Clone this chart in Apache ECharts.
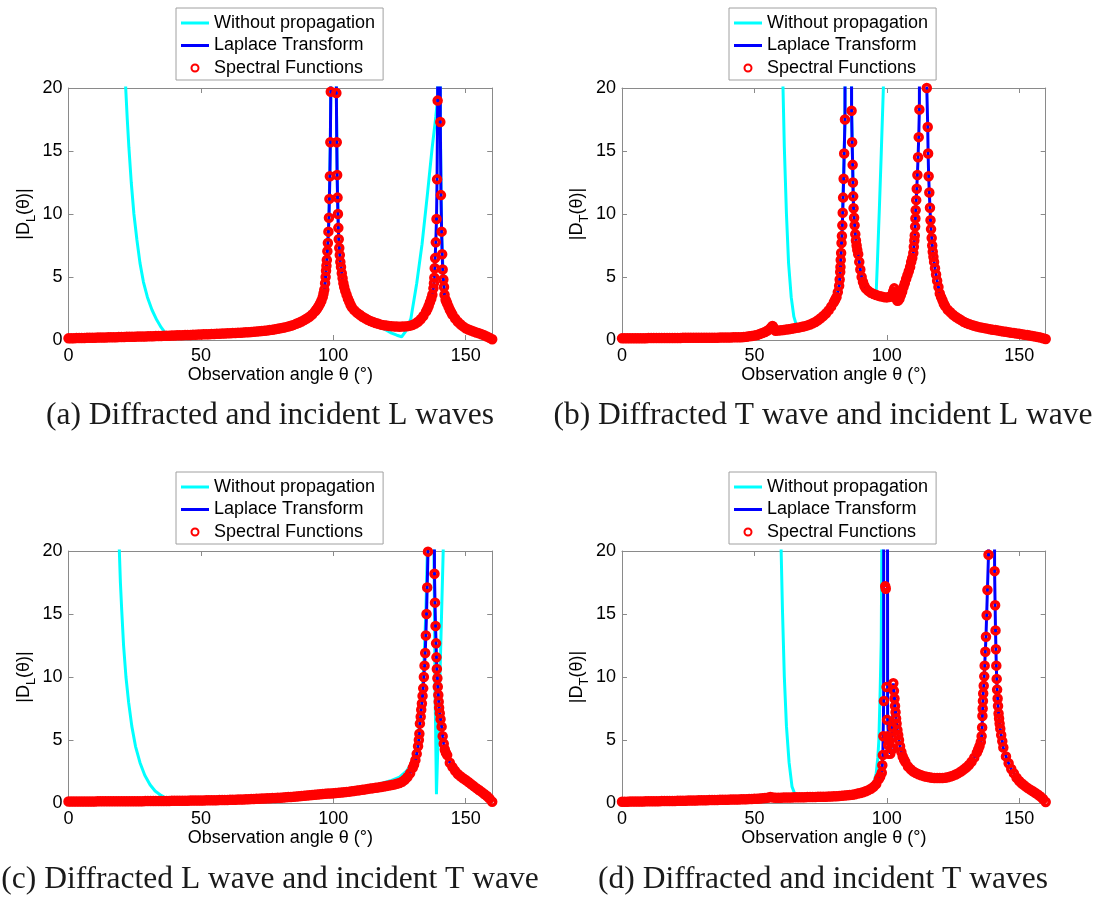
<!DOCTYPE html>
<html><head><meta charset="utf-8">
<script src="https://cdn.jsdelivr.net/npm/echarts/dist/echarts.min.js"></script>
<style>html,body{margin:0;padding:0;background:#fff}#c{width:1101px;height:897px}</style>
</head><body><div id="c"></div>
<script>
// ---------- DATA ----------
// Series names / captions
const seriesNames = ['Without propagation', 'Laplace Transform', 'Spectral Functions'];
const captions = [
  '(a) Diffracted and incident L waves',
  '(b) Diffracted T wave and incident L wave',
  '(c) Diffracted L wave and incident T wave',
  '(d) Diffracted and incident T waves'
];
const ySubs = ['L', 'T', 'L', 'T'];
const xName = 'Observation angle \u03b8 (\u00b0)';

// Spectral-function values at integer angles 0..160 (null = inside a steep peak, see flank lists)
const bandA = [.13,.14,.14,.15,.15,.16,.16,.17,.17,.18,.18,
 .19,.19,.2,.2,.21,.21,.22,.22,.23,.24,
 .24,.25,.25,.26,.26,.27,.27,.28,.28,.29,
 .3,.3,.31,.31,.32,.33,.33,.34,.35,.36,
 .37,.37,.38,.39,.4,.4,.41,.42,.43,.44,
 .45,.46,.46,.47,.48,.49,.5,.51,.52,.53,
 .54,.55,.56,.57,.58,.6,.61,.62,.64,.66,
 .68,.7,.72,.74,.76,.79,.82,.85,.89,.93,
 .97,1.02,1.07,1.13,1.2,1.28,1.37,1.47,1.58,1.7,
 1.85,2.02,2.25,2.52,2.9,3.4,null,null,null,null,
 null,null,null,null,3.6,3.05,2.6,2.35,2.15,2.0,
 1.85,1.72,1.6,1.5,1.42,1.35,1.28,1.22,1.18,1.15,
 1.12,1.1,1.08,1.07,1.06,1.07,1.08,1.1,1.14,1.2,
 1.3,1.45,1.65,1.9,2.25,2.7,null,null,null,null,
 null,null,2.9,2.4,2.0,1.7,1.45,1.25,1.08,.93,
 .84,.75,.67,.6,.53,.45,.37,.27,.17,.06];
const flankA = [[93.5,2.38],[94.5,2.7],[95.5,3.12],[96.3,3.7],[96.6,4.0],[96.9,4.5],[97.1,5.0],[97.25,5.5],[97.4,5.9],[97.55,6.35],[97.75,7.05],[97.95,7.7],[98.15,8.6],[98.35,9.7],[98.52,11.2],[98.7,13.0],[98.88,15.7],[99.05,19.7],
 [101.15,19.6],[101.3,15.7],[101.45,13.1],[101.6,11.3],[101.75,10.0],[101.9,8.9],[102.05,8.0],[102.25,7.3],[102.45,6.75],[102.65,6.2],[102.9,5.8],[103.2,5.3],[103.5,4.9],[103.8,4.5],[104.1,4.2],[104.5,3.9],[105.5,3.3],[106.5,2.8],
 [135.5,2.45],[136.5,3.0],[137.0,3.3],[137.4,3.6],[137.8,4.1],[138.0,4.5],[138.15,4.95],[138.3,5.7],[138.45,6.5],[138.7,7.75],[138.97,9.6],[139.18,12.75],[139.4,19.0],
 [140.4,17.3],[140.65,11.5],[140.9,8.6],[141.1,6.8],[141.3,5.6],[141.55,4.8],[141.8,4.2],[142.0,3.6],[142.4,3.2],[142.7,3.05],[143.5,2.65],[144.5,2.2]];
const peaksA = [[100.1,200],[139.9,200]];
const freeA = [[20.8,30],[21.6,20],[22.2,17.5],[22.8,15.3],[23.7,12.5],[24.7,10],[25.8,8],[27.0,6.1],[28.3,4.6],[29.8,3.4],[31.5,2.4],[33.3,1.6],[35,1.0],[36.4,0.6],[38,0.45],[40,0.37],[50,0.44],[60,0.53],[70,0.66],[80,0.93],[85,1.2],[90,1.7],[93,2.25],[95,2.9],[96.6,4.0],[97.55,6.35],[98.35,9.7],[98.88,15.7],[99.05,19.7],[100.1,200],[101.15,19.6],[101.45,13.1],[101.9,8.9],[102.65,6.2],[103.5,4.9],[105,3.6],[107,2.6],[110,2.0],[113,1.6],[116,1.3],[118,1.0],[120,0.78],[122,0.55],[124,0.38],[125.8,0.26],[127.2,0.65],[129.3,1.7],[131.5,4.5],[133.5,7.6],[135.5,11.5],[137.3,15.2],[138.7,17.7],[139.4,19.2],[139.9,200],[140.4,17.3],[140.9,8.6],[141.55,4.8],[142.4,3.2],[143,2.9],[145,2.0],[150,0.93],[155,0.53],[160,0.06]];

const bandB = [.13,.13,.13,.13,.14,.14,.14,.14,.14,.14,.15,
 .15,.15,.15,.15,.15,.16,.16,.16,.16,.16,
 .16,.16,.17,.17,.17,.17,.17,.17,.17,.18,
 .18,.18,.18,.18,.18,.18,.19,.19,.19,.2,
 .2,.21,.21,.21,.22,.24,.26,.29,.32,.36,
 .4,.47,.55,.64,.75,.92,1.08,.74,.76,.78,
 .8,.83,.86,.89,.93,.97,1.0,1.05,1.1,1.16,
 1.23,1.32,1.43,1.57,1.73,1.9,2.1,2.35,2.65,3.0,
 3.4,4.3,null,null,null,null,null,null,null,null,
 null,4.1,3.9,3.75,3.65,3.57,3.5,3.45,3.4,3.38,
 3.42,null,null,null,null,null,null,null,null,null,
 null,null,null,null,null,null,null,null,null,3.7,
 3.15,2.7,2.4,2.2,2.0,1.85,1.7,1.58,1.45,1.35,
 1.27,1.2,1.13,1.07,1.02,.98,.94,.9,.86,.82,
 .79,.75,.72,.68,.65,.62,.58,.55,.52,.49,
 .46,.42,.39,.36,.32,.28,.24,.19,.14,.08];
const flankB = [[56.5,1.02],[56.8,1.11],[57.4,0.85],[80.5,3.2],[81.5,3.8],[82.2,4.8],[82.4,5.4],[82.5,5.8],[82.6,6.35],[82.75,6.9],[82.9,7.7],[83.05,8.25],[83.2,9.1],[83.35,10.1],[83.5,11.3],[83.7,12.8],[83.9,14.8],[84.2,17.5],
 [86.7,18.2],[86.9,15.7],[87.1,13.9],[87.2,12.5],[87.3,11.4],[87.45,10.45],[87.65,9.7],[87.85,9.1],[88.1,8.4],[88.35,7.9],[88.6,7.5],[88.85,7.15],[89.2,6.8],[89.6,6.2],[90.0,5.6],[90.5,5.0],[91.0,4.6],[91.5,4.3],
 [101.5,3.45],[102.0,3.6],[102.4,3.85],[102.8,4.1],[103.2,3.7],[103.6,3.3],[104.0,3.12],[104.4,3.15],[104.8,3.3],[105.3,3.55],[105.8,3.85],[106.3,4.2],[106.8,4.5],[107.3,4.85],[107.8,5.15],[108.3,5.45],[108.8,5.8],[109.2,6.2],[109.6,6.5],[110.0,6.9],
 [110.2,7.4],[110.4,7.9],[110.55,8.3],[110.7,9.0],[110.8,9.65],[110.9,10.3],[111.1,11.1],[111.3,12.0],[111.55,13.1],[111.8,14.5],[112.05,16.1],[112.3,18.3],
 [115.1,20.0],[115.45,16.9],[115.6,14.8],[115.8,13.0],[116.05,11.7],[116.3,10.5],[116.5,9.5],[116.7,8.8],[116.95,8.1],[117.15,7.5],[117.35,7.0],[117.6,6.6],[117.85,6.2],[118.2,5.7],[118.6,5.2],[119.0,4.7],[119.5,4.2],[120.5,3.4],[121.5,2.9]];
const peaksB = [[85.3,200],[113.6,200]];
const freeB = [[60.3,40],[60.8,20],[61.3,15.3],[62.1,10],[62.9,6.1],[63.9,3.4],[64.9,1.85],[66.1,1.0],[70,1.16],[75,1.73],[80,3.0],[82,4.3],[83.05,8.25],[83.9,14.8],[84.2,17.5],[85.3,200],[86.7,18.2],[87.45,10.45],[88.6,7.5],[90,5.6],[91.5,4.3],[93,3.9],[95,3.65],[96.0,3.8],[96.5,6.5],[97.2,10.5],[97.9,14.8],[98.7,20],[99.3,40],[160,40]];

const bandC = [.12,.12,.12,.12,.12,.12,.12,.12,.12,.12,.12,
 .13,.13,.13,.13,.13,.13,.13,.13,.13,.13,
 .13,.13,.14,.14,.14,.14,.14,.14,.15,.15,
 .15,.15,.15,.15,.16,.16,.16,.16,.17,.17,
 .17,.17,.18,.18,.18,.19,.19,.19,.2,.2,
 .2,.21,.21,.21,.22,.22,.23,.23,.24,.24,
 .25,.25,.26,.27,.27,.28,.29,.3,.31,.32,
 .33,.34,.35,.36,.37,.38,.39,.4,.41,.42,
 .44,.45,.47,.48,.5,.51,.53,.55,.57,.59,
 .61,.63,.65,.67,.69,.71,.73,.75,.76,.78,
 .8,.82,.84,.86,.88,.9,.93,.96,.99,1.02,
 1.05,1.08,1.12,1.15,1.18,1.21,1.24,1.27,1.3,1.34,
 1.38,1.42,1.47,1.52,1.58,1.68,1.85,2.07,2.36,2.8,
 3.4,null,null,null,null,null,null,null,null,null,
 null,null,3.8,3.2,2.85,2.55,2.3,2.12,1.97,1.83,
 1.67,1.5,1.34,1.18,1.03,.88,.72,.55,.35,.1];
const flankC = [[130.5,3.05],[131.5,3.9],[132.0,4.5],[132.3,5.0],[132.5,5.5],[132.7,6.3],[133.0,6.85],[133.2,7.4],[133.45,7.9],[133.7,8.5],[133.95,9.1],[134.2,10.0],[134.45,10.9],[134.7,11.9],[134.95,13.3],[135.2,15.0],[135.45,17.1],[135.75,19.95],
 [138.2,18.2],[138.4,15.9],[138.6,14.05],[138.8,12.67],[138.95,11.56],[139.1,10.63],[139.3,9.9],[139.45,9.23],[139.65,8.57],[139.8,8.04],[139.95,7.56],[140.2,7.12],[140.5,6.64],[140.9,6.06],[141.3,5.3],[141.7,4.7],[142.1,4.25],[142.5,4.0]];
const peaksC = [[136.8,200]];
const freeC = [[18.8,30],[19.2,20],[19.6,17.5],[20.1,15.3],[20.8,12.5],[21.7,10],[22.7,8],[23.9,6.1],[25.3,4.5],[27.0,3.2],[28.8,2.2],[30.8,1.45],[32.7,0.95],[34.6,0.66],[36.2,0.45],[37.7,0.32],[42,0.18],[60,0.24],[80,0.42],[100,0.8],[110,1.05],[118,1.55],[122,1.8],[125,2.05],[127.5,2.5],[129,2.95],[130.2,3.5],[131.5,4.5],[132.5,6.06],[133.5,8.5],[134.3,11.5],[135,15.5],[135.5,20],[136.3,40],[137.3,40],[138.0,20],[138.5,8],[138.95,0.7],[139.4,4],[140.3,10.3],[141.5,20],[142.2,40],[160,40]];

const bandD = [.1,.1,.1,.11,.11,.11,.12,.12,.12,.13,.13,
 .13,.14,.14,.14,.15,.15,.15,.16,.16,.16,
 .17,.17,.18,.18,.19,.19,.2,.2,.21,.21,
 .22,.22,.23,.23,.24,.24,.25,.25,.26,.26,
 .27,.27,.28,.28,.29,.3,.3,.31,.32,.33,
 .34,.35,.37,.39,.42,.47,.44,.42,.42,.42,
 .43,.43,.44,.44,.45,.45,.46,.46,.46,.47,
 .47,.48,.48,.49,.49,.5,.5,.51,.52,.53,
 .54,.55,.57,.59,.61,.63,.66,.7,.75,.8,
 .86,.93,1.02,1.13,1.28,1.5,1.9,null,null,null,
 null,null,null,null,4.5,3.7,3.25,2.9,2.68,2.5,
 2.38,2.28,2.2,2.13,2.08,2.04,2.01,1.99,1.98,1.98,
 1.99,2.01,2.05,2.1,2.17,2.26,2.37,2.5,2.65,2.82,
 3.02,3.28,3.6,4.0,4.5,null,null,null,null,null,
 null,null,null,4.4,3.7,3.15,2.7,2.35,2.0,1.75,
 1.55,1.38,1.22,1.08,.95,.82,.68,.52,.32,.08];
const flankD = [[97.5,2.1],[98.1,2.4],[98.3,3.0],[98.5,3.8],
 [102.45,9.5],[102.7,8.9],[102.9,8.3],[103.1,7.7],[103.3,7.2],[103.5,6.7],[103.7,6.3],[104.0,5.8],[104.3,5.4],[104.6,5.0],[105.5,4.05],[106.5,3.45],
 [134.5,4.25],[135.5,4.85],[135.8,5.3],[136.0,6.0],[136.1,6.9],[136.2,7.5],[136.3,8.1],[136.4,8.7],[136.6,9.3],[136.8,10.05],[136.95,10.9],[137.2,12.0],[137.45,13.2],[137.7,14.9],[138.0,16.9],[138.4,19.7],
 [140.7,18.4],[140.9,15.7],[141.05,13.7],[141.2,12.2],[141.35,10.9],[141.5,9.85],[141.65,9.0],[141.85,8.3],[142.0,7.7],[142.2,7.1],[142.4,6.7],[142.6,6.3],[142.85,5.9],[143.2,5.4],[143.6,4.9]];
const clusterD = [[98.7,5.3],[98.9,8.1],[99.4,17.2],[99.6,17.0],[99.9,9.2],[100.1,6.6],[100.3,5.3],[100.5,4.6],[100.6,3.9],[101.0,4.9],[101.3,3.9],[101.7,4.4],[101.9,5.2],[102.2,6.0],[102.3,4.3]];
const peaksD = [[98.8,8],[99.2,200],[99.55,30],[99.9,200],[100.3,6.6],[100.8,4.6],[101.3,3.9],[101.8,4.6],[102.2,6.5],[139.5,200]];
const freeD = [[59.6,40],[60.1,20],[60.6,15.3],[61.3,10],[62.1,6.1],[63.1,3.2],[64.2,1.3],[65.5,0.58],[67,0.46],[75,0.49],[85,0.61],[90,0.8],[94.1,1.17],[95.0,1.5],[96.0,2.36],[96.6,3.6],[97.0,5.0],[97.5,9.0],[97.9,12.9],[98.1,19.8],[98.3,40],[160,40]];

// ---------- BUILD ----------
function bandPts(band){ const out=[]; band.forEach((v,i)=>{ if(v!==null) out.push([i,v]); }); return out; }
function merged(){ return [].concat(...arguments).sort((a,b)=>a[0]-b[0]); }

const panels = [
  {free:freeA, lap:merged(bandPts(bandA),flankA,peaksA), spec:merged(bandPts(bandA),flankA)},
  {free:freeB, lap:merged(bandPts(bandB),flankB,peaksB), spec:merged(bandPts(bandB),flankB)},
  {free:freeC, lap:merged(bandPts(bandC),flankC,peaksC), spec:merged(bandPts(bandC),flankC)},
  {free:freeD, lap:merged(bandPts(bandD),flankD,peaksD), spec:merged(bandPts(bandD),flankD,clusterD)}
];

const layout = [
  {left:68.5, top:88,  legL:176, legT:8,   capX:270, capY:400},
  {left:622,  top:88,  legL:729, legT:8,   capX:823, capY:400},
  {left:68.5, top:551, legL:176, legT:472, capX:270, capY:864},
  {left:622,  top:551, legL:729, legT:472, capX:823, capY:864}
];
const GW = 423.7, GH = 252;
const SANS = 'Liberation Sans, Arial, Helvetica, sans-serif';
const AX = '#8a8a8a';
const LINE_ICON = 'path://M0,0h28v3h-28z';

const grid=[], xAxis=[], yAxis=[], series=[], legend=[], title=[];
layout.forEach((L,i)=>{
  grid.push({left:L.left, top:L.top, width:GW, height:GH, containLabel:false});
  const tick = {show:true, inside:true, length:5, lineStyle:{color:AX, width:1}};
  const line = {show:true, onZero:false, lineStyle:{color:AX, width:1}};
  xAxis.push({gridIndex:i, type:'value', position:'bottom', min:0, max:160, interval:50,
    axisLine:line, axisTick:tick, splitLine:{show:false},
    axisLabel:{showMaxLabel:false, fontSize:18, fontFamily:SANS, color:'#000', margin:7},
    name:xName, nameLocation:'middle', nameGap:24,
    nameTextStyle:{fontSize:18, fontFamily:SANS, color:'#000'}});
  xAxis.push({gridIndex:i, type:'value', position:'top', min:0, max:160, interval:50,
    axisLine:line, axisTick:tick, splitLine:{show:false}, axisLabel:{show:false}});
  yAxis.push({gridIndex:i, type:'value', position:'left', min:0, max:20, interval:5,
    axisLine:line, axisTick:tick, splitLine:{show:false},
    axisLabel:{fontSize:18, fontFamily:SANS, color:'#000', margin:6},
    name:'|D{s|'+ySubs[i]+'}(\u03b8)|', nameLocation:'middle', nameRotate:90, nameGap:31,
    nameTextStyle:{fontSize:18, fontFamily:SANS, color:'#000',
      rich:{s:{fontSize:13, fontFamily:SANS, color:'#000', padding:[14,0,0,0]}}}});
  yAxis.push({gridIndex:i, type:'value', position:'right', min:0, max:20, interval:5,
    axisLine:line, axisTick:tick, splitLine:{show:false}, axisLabel:{show:false}});
  const P = panels[i];
  series.push({name:seriesNames[0], type:'line', xAxisIndex:2*i, yAxisIndex:2*i, data:P.free,
    symbol:'none', showSymbol:false, lineStyle:{color:'#00ffff', width:3}, itemStyle:{color:'#00ffff'},
    clip:true, silent:true, z:2, animation:false});
  series.push({name:seriesNames[1], type:'line', xAxisIndex:2*i, yAxisIndex:2*i, data:P.lap,
    symbol:'none', showSymbol:false, lineStyle:{color:'#0000ff', width:3}, itemStyle:{color:'#0000ff'},
    clip:true, silent:true, z:3, animation:false});
  series.push({name:seriesNames[2], type:'scatter', xAxisIndex:2*i, yAxisIndex:2*i, data:P.spec,
    symbol:'circle', symbolSize:7,
    itemStyle:{color:'rgba(255,255,255,0)', borderColor:'#ff0000', borderWidth:3.5, opacity:1},
    clip:true, silent:true, z:4, animation:false});
  legend.push({left:L.legL, top:L.legT, orient:'vertical',
    data:[
      {name:seriesNames[0], icon:LINE_ICON, itemStyle:{color:'#00ffff', borderWidth:0}},
      {name:seriesNames[1], icon:LINE_ICON, itemStyle:{color:'#0000ff', borderWidth:0}},
      {name:seriesNames[2]}
    ],
    itemWidth:28, itemHeight:7, itemGap:4.5, padding:[6,8,3,5],
    borderColor:'#a0a0a0', borderWidth:1, backgroundColor:'#fff', selectedMode:false,
    textStyle:{fontSize:18, fontFamily:SANS, color:'#000', lineHeight:18}});
  title.push({text:captions[i], left:L.capX, top:L.capY, textAlign:'center', padding:0,
    textStyle:{fontFamily:'Liberation Serif, Times New Roman, serif', fontSize:31.5, fontWeight:'normal', color:'#1a1a1a'}});
});

const chart = echarts.init(document.getElementById('c'), null, {renderer:'canvas'});
chart.setOption({animation:false, backgroundColor:'#fff', title, legend, grid, xAxis, yAxis, series});
</script></body></html>
